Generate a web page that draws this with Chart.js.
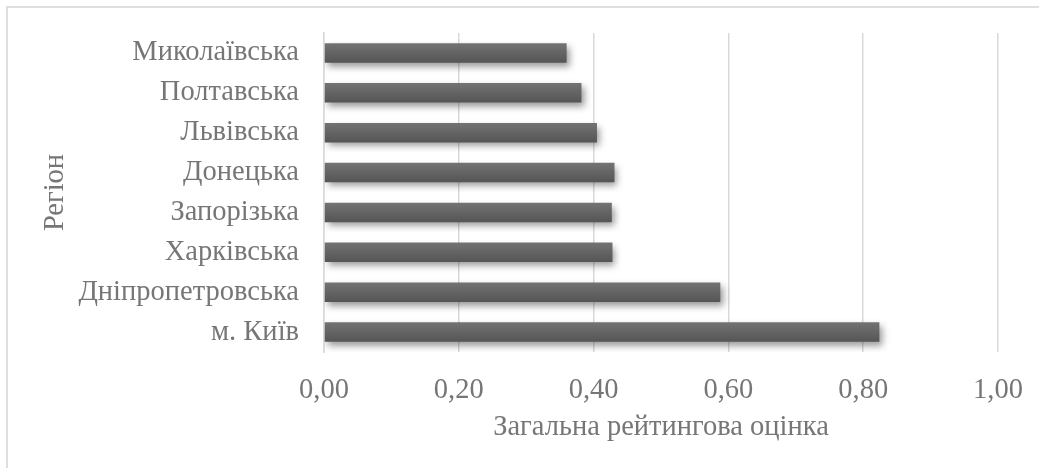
<!DOCTYPE html>
<html>
<head>
<meta charset="utf-8">
<script src="https://cdn.jsdelivr.net/npm/chart.js@4"></script>
<style>
  html,body{margin:0;padding:0;background:#fff;overflow:hidden;}
  #wrap{position:relative;width:1039px;height:468px;}
  #frame{position:absolute;left:6px;top:6px;width:1100px;height:520px;border:2px solid #dedede;box-sizing:border-box;}
  canvas{position:absolute;left:0;top:0;}
</style>
</head>
<body>
<div id="wrap"><div id="frame"></div><canvas id="c" width="1039" height="468"></canvas></div>
<script>
const categories = ["Миколаївська","Полтавська","Львівська","Донецька","Запорізька","Харківська","Дніпропетровська","м. Київ"];
const values = [0.360, 0.382, 0.405, 0.431, 0.427, 0.428, 0.588, 0.824];
const xTicks = [0, 0.2, 0.4, 0.6, 0.8, 1.0];
const xTitle = "Загальна рейтингова оцінка";
const yTitle = "Регіон";

const FONT = "'Liberation Serif','Times New Roman',serif";
const FS = 28.5;
const TXT = "#767676";
const GRID = "#d9d9d9";

const shadowPlugin = {
  id: 'barShadow',
  beforeDatasetsDraw(chart){
    const ctx = chart.ctx; ctx.save();
    ctx.shadowColor = 'rgba(0,0,0,0.4)';
    ctx.shadowBlur = 7; ctx.shadowOffsetX = 3; ctx.shadowOffsetY = 4;
  },
  afterDatasetsDraw(chart){ chart.ctx.restore(); }
};

function barFill(context){
  const chart = context.chart;
  if (!chart.chartArea) return '#606060';
  const ys = chart.scales.y;
  const yc = ys.getPixelForValue(context.dataIndex);
  const h = (chart.chartArea.bottom - chart.chartArea.top) / categories.length * 0.49;
  const g = chart.ctx.createLinearGradient(0, yc - h/2, 0, yc + h/2);
  g.addColorStop(0, '#737373');
  g.addColorStop(1, '#555555');
  return g;
}

new Chart(document.getElementById('c'), {
  type: 'bar',
  data: {
    labels: categories,
    datasets: [{ data: values, backgroundColor: barFill, borderWidth: 0, categoryPercentage: 1, barPercentage: 0.49 }]
  },
  options: {
    indexAxis: 'y',
    responsive: false,
    animation: false,
    devicePixelRatio: 1,
    layout: { padding: { top: 33, right: 41, left: 0, bottom: 0 } },
    plugins: { legend: { display: false }, tooltip: { enabled: false } },
    scales: {
      x: {
        min: 0, max: 1,
        afterBuildTicks(s){ s.ticks = xTicks.map(v => ({ value: v })); },
        afterFit(s){ s.height = 116; s.paddingLeft = 0; s.paddingRight = 0; },
        grid: { color: GRID, lineWidth: 1.5, drawTicks: false },
        border: { display: false },
        ticks: { color: TXT, padding: 21, font: { family: FONT, size: FS },
                 callback: v => Number(v).toFixed(2).replace('.', ',') },
        title: { display: true, text: xTitle, color: TXT, font: { family: FONT, size: FS }, padding: { top: 0, bottom: 23 } }
      },
      y: {
        afterFit(s){ s.width = 324; s.paddingTop = 0; s.paddingBottom = 0; },
        grid: { display: false, drawTicks: false },
        border: { display: true, color: GRID, width: 1.5 },
        ticks: { color: TXT, padding: 25, font: { family: FONT, size: FS } },
        title: { display: true, text: yTitle, color: TXT, font: { family: FONT, size: FS }, padding: { top: 38, bottom: 0 } }
      }
    }
  },
  plugins: [shadowPlugin]
});
</script>
</body>
</html>
